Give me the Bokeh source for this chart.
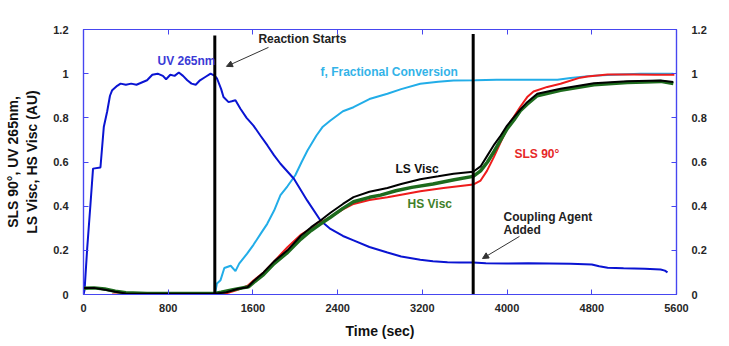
import math
from bokeh.plotting import figure
from bokeh.models import Range1d, LinearAxis, Label, Arrow, NormalHead, FixedTicker
from bokeh.embed import file_html
from bokeh.resources import INLINE

# ---------------- data ----------------
uv_t = [0, 10, 35, 66, 90, 160, 192, 224, 250, 271, 318, 350, 400, 450, 500, 550, 600, 650, 700, 750, 780,
        820, 860, 900, 940, 980, 1020, 1060, 1100, 1150, 1200, 1240, 1262, 1300, 1322, 1370, 1400, 1435, 1482,
        1540, 1605, 1670, 1737, 1800, 1860, 1987, 2112, 2238, 2332, 2450, 2550, 2700, 2870, 3000, 3180, 3300,
        3437, 3550, 3680, 3800, 4000, 4200, 4400, 4600, 4800, 4870, 4950, 5100, 5300, 5450, 5490, 5515]
uv_v = [0.0, 0.02, 0.21, 0.41, 0.57, 0.575, 0.76, 0.83, 0.9, 0.925, 0.945, 0.955, 0.95, 0.955, 0.95, 0.96,
        0.97, 0.995, 1.0, 0.99, 0.975, 0.995, 0.99, 1.005, 0.99, 0.97, 0.955, 0.95, 0.97, 0.985, 1.0, 0.99,
        0.977, 0.93, 0.894, 0.871, 0.875, 0.88, 0.841, 0.8, 0.765, 0.72, 0.675, 0.63, 0.592, 0.524, 0.426,
        0.335, 0.297, 0.265, 0.245, 0.215, 0.19, 0.172, 0.157, 0.151, 0.146, 0.145, 0.145, 0.142, 0.14,
        0.141, 0.14, 0.139, 0.136, 0.128, 0.121, 0.119, 0.117, 0.113, 0.108, 0.1]

frac_t = [1240, 1260, 1294, 1330, 1390, 1435, 1470, 1545, 1605, 1680, 1735, 1800, 1860, 1926, 2000, 2060,
          2115, 2200, 2260, 2332, 2450, 2550, 2700, 2870, 3000, 3180, 3350, 3495, 3700, 3900, 4100, 4300,
          4476, 4600, 4790, 5000, 5260, 5400, 5570]
frac_v = [0.0, 0.05, 0.065, 0.12, 0.13, 0.106, 0.14, 0.185, 0.225, 0.28, 0.32, 0.38, 0.45, 0.49, 0.54, 0.6,
          0.652, 0.72, 0.76, 0.788, 0.83, 0.848, 0.885, 0.909, 0.93, 0.954, 0.963, 0.969, 0.97, 0.972, 0.972,
          0.973, 0.972, 0.98, 0.99, 0.995, 1.0, 1.0, 1.0]

sls_t = [270, 600, 1000, 1240, 1350, 1450, 1550, 1605, 1700, 1800, 1926, 2050, 2150, 2210, 2250, 2332, 2450,
         2550, 2700, 2870, 3000, 3180, 3400, 3600, 3680, 3750, 3810, 3875, 3940, 4030, 4125, 4190, 4250,
         4380, 4505, 4690, 4760, 4950, 5200, 5400, 5580]
sls_v = [0.0, 0.0, 0.0, 0.0, 0.005, 0.02, 0.04, 0.063, 0.1, 0.15, 0.214, 0.27, 0.3, 0.325, 0.33, 0.35,
         0.385, 0.41, 0.428, 0.44, 0.452, 0.468, 0.482, 0.494, 0.498, 0.516, 0.56, 0.622, 0.69, 0.78, 0.85,
         0.894, 0.919, 0.94, 0.954, 0.982, 0.987, 0.996, 0.996, 0.995, 0.995]

ls_t = [0, 100, 200, 300, 400, 600, 900, 1240, 1350, 1450, 1549, 1605, 1700, 1800, 1926, 2050, 2150, 2238,
        2332, 2450, 2550, 2700, 2870, 3000, 3180, 3350, 3495, 3680, 3750, 3815, 3880, 3940, 4000, 4065, 4130,
        4190, 4285, 4505, 4820, 5135, 5450, 5570]
ls_v = [0.03, 0.03, 0.022, 0.012, 0.005, 0.003, 0.003, 0.003, 0.01, 0.025, 0.033, 0.06, 0.1, 0.15, 0.2,
        0.265, 0.305, 0.335, 0.37, 0.41, 0.441, 0.465, 0.482, 0.5, 0.522, 0.535, 0.547, 0.556, 0.58, 0.63,
        0.68, 0.72, 0.765, 0.803, 0.84, 0.871, 0.909, 0.932, 0.957, 0.966, 0.969, 0.962]

hs_t = [0, 100, 200, 300, 400, 600, 900, 1240, 1300, 1400, 1500, 1560, 1620, 1700, 1800, 1926, 2050, 2150,
        2240, 2332, 2450, 2550, 2700, 2805, 2950, 3100, 3300, 3500, 3680, 3750, 3815, 3880, 3940, 4000, 4065,
        4130, 4190, 4285, 4505, 4820, 5135, 5300, 5450, 5570]
hs_v = [0.028, 0.03, 0.025, 0.015, 0.008, 0.005, 0.005, 0.005, 0.01, 0.02, 0.03, 0.035, 0.06, 0.09, 0.14,
        0.19, 0.25, 0.29, 0.32, 0.35, 0.39, 0.42, 0.44, 0.45, 0.47, 0.485, 0.5, 0.52, 0.535, 0.56, 0.6, 0.65,
        0.7, 0.75, 0.79, 0.835, 0.862, 0.9, 0.925, 0.95, 0.96, 0.962, 0.965, 0.955]

event_t = [1240, 3680]
event_top = [1.173, 1.18]

x_ticks = [0, 800, 1600, 2400, 3200, 4000, 4800, 5600]
y_ticks = [0, 0.2, 0.4, 0.6, 0.8, 1.0, 1.2]
y_tick_labels = {0: "0", 0.2: "0.2", 0.4: "0.4", 0.6: "0.6", 0.8: "0.8", 1.0: "1", 1.2: "1.2"}

# ---------------- styles ----------------
FONT = "Liberation Sans"
AXIS_BLUE = "#4646f0"
TICK_TXT = "#262626"
C_UV = "#0a14d2"
C_FRAC = "#22ade8"
C_SLS = "#ee1c1c"
C_LS = "#000000"
C_HS = "#1d6b1d"

p = figure(width=729, height=346, x_range=Range1d(0, 5600), y_range=Range1d(0, 1.2),
           output_backend="svg", toolbar_location=None,
           min_border_left=83, min_border_right=53, min_border_top=29, min_border_bottom=52)
p.extra_y_ranges = {"right": Range1d(0, 1.2)}
p.grid.visible = False
p.outline_line_color = AXIS_BLUE
p.outline_line_width = 1.2
p.background_fill_color = "white"
p.border_fill_color = "white"


def style_axis(ax):
    ax.axis_line_color = AXIS_BLUE
    ax.axis_line_width = 1.2
    ax.major_tick_line_color = AXIS_BLUE
    ax.major_tick_in = 5
    ax.major_tick_out = 0
    ax.minor_tick_line_color = None
    ax.major_label_text_font = FONT
    ax.major_label_text_font_style = "bold"
    ax.major_label_text_font_size = "11px"
    ax.major_label_text_color = TICK_TXT


xa = p.xaxis[0]
style_axis(xa)
xa.ticker = FixedTicker(ticks=x_ticks)
xa.major_label_standoff = 9
xa.axis_label = "Time (sec)"
xa.axis_label_text_font = FONT
xa.axis_label_text_font_style = "bold"
xa.axis_label_text_font_size = "14px"
xa.axis_label_text_color = "#111111"
xa.axis_label_standoff = 8

ya = p.yaxis[0]
style_axis(ya)
ya.ticker = FixedTicker(ticks=y_ticks)
ya.major_label_overrides = y_tick_labels
ya.major_label_standoff = 15
ya.axis_label = "SLS 90°, UV 265nm,\nLS Visc, HS Visc (AU)"
ya.axis_label_text_font = FONT
ya.axis_label_text_font_style = "bold"
ya.axis_label_text_font_size = "14px"
ya.axis_label_text_color = "#111111"
ya.axis_label_standoff = 10

ra = LinearAxis(y_range_name="right")
style_axis(ra)
ra.ticker = FixedTicker(ticks=y_ticks)
ra.major_label_overrides = y_tick_labels
ra.major_label_standoff = 15
p.add_layout(ra, "right")

# top axis: tick marks only, no labels
ta = LinearAxis()
style_axis(ta)
ta.ticker = FixedTicker(ticks=x_ticks)
ta.major_label_overrides = {t: "" for t in x_ticks}
ta.major_label_standoff = 0
p.add_layout(ta, "above")

# ---------------- series ----------------
p.line(frac_t, frac_v, line_color=C_FRAC, line_width=2)
p.line(uv_t, uv_v, line_color=C_UV, line_width=2)
p.line(sls_t, sls_v, line_color=C_SLS, line_width=2)
p.line(hs_t, hs_v, line_color=C_HS, line_width=3.5)
p.line(ls_t, ls_v, line_color=C_LS, line_width=2)

p.segment(x0=event_t, y0=[0] * len(event_t), x1=event_t, y1=event_top, line_color="black", line_width=3)

# ---------------- annotations ----------------
def add_label(x, y, text, color, size="12px"):
    p.add_layout(Label(x=x, y=y, text=text, text_color=color, text_font=FONT, text_font_style="bold",
                       text_font_size=size, text_baseline="middle", text_align="left"))

add_label(1652, 1.159, "Reaction Starts", "#222222")
add_label(699, 1.057, "UV 265nm", "#3a3ad6")
add_label(2238, 1.007, "f, Fractional Conversion", "#33b3e8")
add_label(2946, 0.569, "LS Visc", "#111111")
add_label(3060, 0.41, "HS Visc", "#3f7f2a")
add_label(4070, 0.637, "SLS 90°", "#e62828")
add_label(3966, 0.35, "Coupling Agent", "#222222")
add_label(3966, 0.29, "Added", "#222222")

p.add_layout(Arrow(end=NormalHead(size=6, fill_color="#333333", line_color="#333333", line_width=1),
                   x_start=1747, y_start=1.119, x_end=1350, y_end=1.033,
                   line_color="#333333", line_width=1))
p.add_layout(Arrow(end=NormalHead(size=6, fill_color="#333333", line_color="#333333", line_width=1),
                   x_start=4117, y_start=0.263, x_end=3768, y_end=0.163,
                   line_color="#333333", line_width=1))

# right-hand axis title, cut off at the page edge as in the original
p.add_layout(Label(x=6044, y=0.974, text="f, Fractional Conversion", angle=-math.pi / 2,
                   text_color="#7a3a12", text_font=FONT, text_font_style="bold", text_font_size="14px",
                   text_baseline="alphabetic", text_align="left"))

open("out.html", "w").write(file_html(p, INLINE))
